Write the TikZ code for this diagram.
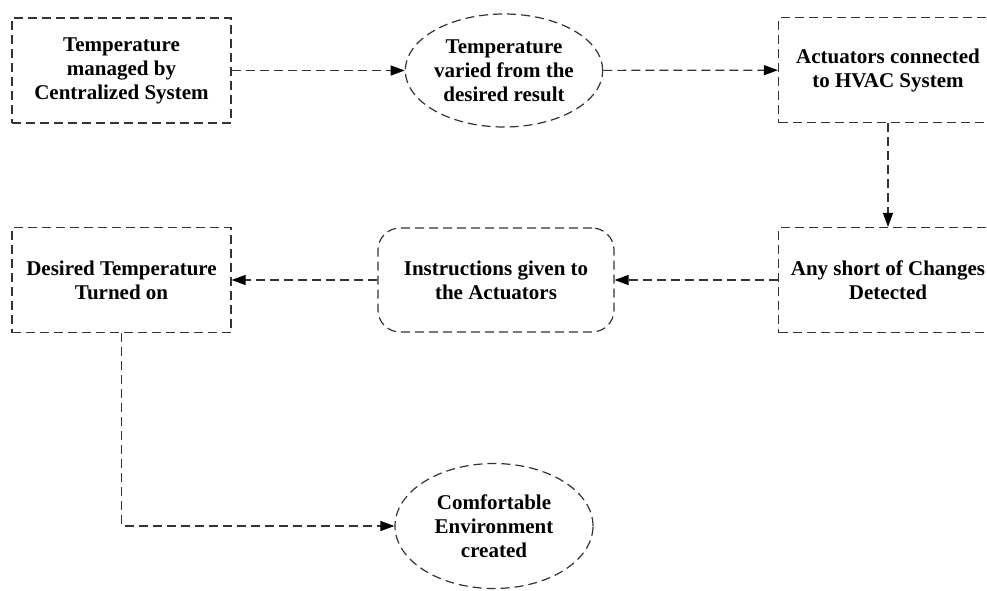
\documentclass[tikz,border=0pt]{standalone}
\usepackage{fontspec}
\setmainfont{Liberation Serif}
\usetikzlibrary{arrows.meta,shapes.geometric}

\begin{document}
\begin{tikzpicture}[x=1pt,y=-1pt,
  flow/.style={draw=black!80, dash pattern=on 9pt off 5pt, line width=1.2pt,
               align=center, inner sep=0pt,
               font=\fontsize{21}{24}\selectfont\bfseries},
  stepbox/.style={flow, rectangle, minimum width=219pt, minimum height=105pt},
  roundbox/.style={flow, rectangle, rounded corners=22pt,
                   minimum width=236pt, minimum height=104pt},
  oval/.style={flow, ellipse, minimum width=197pt, minimum height=113pt},
  link/.style={draw=black!80, dash pattern=on 9pt off 5pt, line width=1.2pt,
               -{Triangle[length=14pt,width=10pt,color=black]}}]
\useasboundingbox (0,0) rectangle (987,590);

% top row
\node[stepbox] (managed) at (121.5,70.5)
      {Temperature\\managed by\\Centralized System};
\node[oval] (varied) at (504,70.5)
      {Temperature\\varied from the\\desired result};
\node[stepbox] (actuators) at (888,70)
      {Actuators connected\\to HVAC System};

% middle row
\node[stepbox] (changes) at (888,280)
      {Any short of Changes\\Detected};
\node[roundbox] (instr) at (496,280)
      {Instructions given to\\the Actuators};
\node[stepbox] (desired) at (121.5,280)
      {Desired Temperature\\Turned on};

% bottom
\node[oval, minimum width=198pt, minimum height=125pt] (comfort) at (494,526)
      {Comfortable\\Environment\\created};

\draw[link] (managed) -- (varied);
\draw[link] (varied) -- (actuators);
\draw[link] (actuators) -- (changes);
\draw[link] (changes) -- (instr);
\draw[link] (instr) -- (desired);
\draw[link] (desired.south) |- (comfort.west);
\end{tikzpicture}
\end{document}
